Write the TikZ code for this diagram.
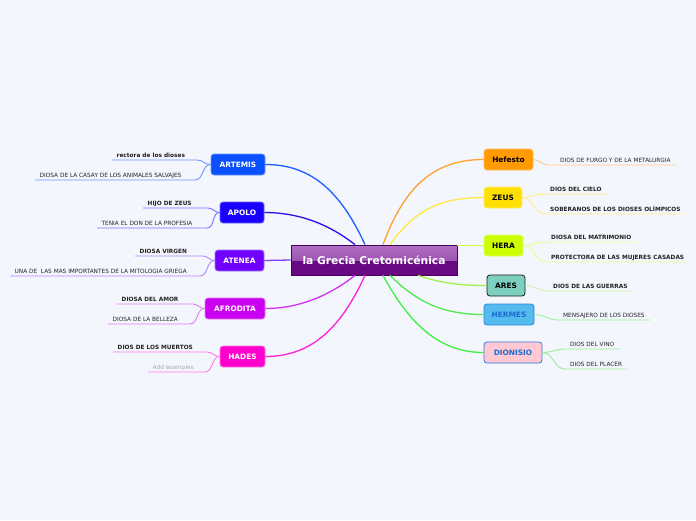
\documentclass[tikz,border=0pt]{standalone}
\usepackage{fontspec}
\setmainfont{DejaVu Sans}
\usetikzlibrary{calc}
\definecolor{bg}{HTML}{F3F6FD}
\definecolor{cenB}{HTML}{4A0062}
\definecolor{cenT}{HTML}{B070C2}
\definecolor{cenM}{HTML}{8C3AA2}
\definecolor{cenD}{HTML}{6A0A82}
% node fills
\definecolor{artF}{HTML}{0A50FF}\definecolor{artB}{HTML}{6A92FF}
\definecolor{apoF}{HTML}{1A00FF}\definecolor{apoB}{HTML}{6A60FF}
\definecolor{ateF}{HTML}{7000FF}\definecolor{ateB}{HTML}{A070FF}
\definecolor{afrF}{HTML}{CC00F0}\definecolor{afrB}{HTML}{E070F8}
\definecolor{hadF}{HTML}{FF00CC}\definecolor{hadB}{HTML}{FF70E0}
\definecolor{hefF}{HTML}{FF9A00}\definecolor{hefB}{HTML}{FFBE60}
\definecolor{zeuF}{HTML}{FFE000}\definecolor{zeuB}{HTML}{FFEE70}
\definecolor{herF}{HTML}{CCFF00}\definecolor{herB}{HTML}{E0FF70}
\definecolor{areF}{HTML}{7DCFC0}\definecolor{areB}{HTML}{1A1A1A}
\definecolor{hrmF}{HTML}{55BBEE}\definecolor{hrmB}{HTML}{2A88DD}
\definecolor{dioF}{HTML}{FFC8D2}\definecolor{dioB}{HTML}{2A7AE0}
\definecolor{blueT}{HTML}{1A6BD0}
% main connectors
\definecolor{artM}{HTML}{1E5EFF}
\definecolor{apoM}{HTML}{2A10E8}
\definecolor{ateM}{HTML}{8040FF}
\definecolor{afrM}{HTML}{D030F0}
\definecolor{hadM}{HTML}{FF20D8}
\definecolor{hefM}{HTML}{FFA030}
\definecolor{zeuM}{HTML}{FFE840}
\definecolor{herM}{HTML}{D8FF30}
\definecolor{areM}{HTML}{A0F050}
\definecolor{hrmM}{HTML}{50E850}
\definecolor{dioM}{HTML}{40F040}
% leaf lines
\definecolor{artL}{HTML}{7094FF}
\definecolor{apoL}{HTML}{7A70FF}
\definecolor{ateL}{HTML}{B585FF}
\definecolor{afrL}{HTML}{E27AF5}
\definecolor{hadL}{HTML}{FF78E5}
\definecolor{hefL}{HTML}{FFCC88}
\definecolor{zeuL}{HTML}{FFEE88}
\definecolor{herL}{HTML}{EEFF88}
\definecolor{areL}{HTML}{C8F5A0}
\definecolor{hrmL}{HTML}{99F099}
\definecolor{dioL}{HTML}{99F099}
\definecolor{leafT}{HTML}{222222}
\definecolor{addT}{HTML}{A8A8A8}
\begin{document}
\begin{tikzpicture}[x=1pt,y=-1pt,
  god/.style={rounded corners=3pt, minimum height=21pt, inner sep=0pt,
    font=\fontsize{7.4}{8}\selectfont\bfseries, line width=0.8pt},
  leaf/.style={anchor=south west, inner xsep=4.5pt, inner ysep=2.5pt,
    text height=4.3pt, text depth=0pt, font=\fontsize{5.8}{6.5}\selectfont, text=leafT},
  leafb/.style={leaf, font=\fontsize{5.8}{6.5}\selectfont\bfseries},
  mainc/.style={line width=1.3pt},
  subc/.style={line width=0.9pt}]
\useasboundingbox[fill=bg] (0,0) rectangle (696,520);

% central node
\node[draw=cenB, line width=0.8pt, minimum width=166pt, minimum height=30pt,
  inner sep=0pt, fill=cenD,
  path picture={\fill[top color=cenT, bottom color=cenM]
    (path picture bounding box.north west) rectangle (path picture bounding box.east);},
  text=white, font=\fontsize{10.7}{12}\selectfont\bfseries] (c) at (374,260) {la Grecia Cretomicénica};

% left gods
\node[god, fill=artF, draw=artB, text=white, minimum width=54pt] (artemis) at (238,164.5) {ARTEMIS};
\node[god, fill=apoF, draw=apoB, text=white, minimum width=44pt] (apolo) at (242,212.5) {APOLO};
\node[god, fill=ateF, draw=ateB, text=white, minimum width=49pt] (atenea) at (239.5,260.5) {ATENEA};
\node[god, fill=afrF, draw=afrB, text=white, minimum width=60pt] (afrodita) at (235,308.5) {AFRODITA};
\node[god, fill=hadF, draw=hadB, text=white, minimum width=45pt] (hades) at (242.5,356.5) {HADES};

% right gods
\node[god, fill=hefF, draw=hefB, text=black, minimum width=49pt] (hefesto) at (508.5,159.5) {Hefesto};
\node[god, fill=zeuF, draw=zeuB, text=black, minimum width=38pt] (zeus) at (503,197.5) {ZEUS};
\node[god, fill=herF, draw=herB, text=black, minimum width=39pt] (hera) at (503.5,245.5) {HERA};
\node[god, fill=areF, draw=areB, text=black, minimum width=38pt] (ares) at (506,285.5) {ARES};
\node[god, fill=hrmF, draw=hrmB, text=blueT, minimum width=50pt] (hermes) at (509,314.5) {HERMES};
\node[god, fill=dioF, draw=dioB, text=blueT, minimum width=58pt] (dionisio) at (513,352.5) {DIONISIO};

% main connectors
\draw[mainc, artM] ($(c.north)+(-9,0)$) .. controls (340,190) and (310,164.5) .. (artemis.east);
\draw[mainc, apoM] ($(c.north)+(-19,0)$) .. controls (330,225) and (300,212.5) .. (apolo.east);
\draw[mainc, ateM] (c.west) -- (atenea.east);
\draw[mainc, afrM] ($(c.south)+(-19,0)$) .. controls (330,295) and (300,308.5) .. (afrodita.east);
\draw[mainc, hadM] ($(c.south)+(-9,0)$) .. controls (340,330) and (310,356.5) .. (hades.east);
\draw[mainc, hefM] ($(c.north)+(9,0)$) .. controls (405,185) and (435,159.5) .. (hefesto.west);
\draw[mainc, zeuM] ($(c.north)+(16,0)$) .. controls (415,210) and (440,197.5) .. (zeus.west);
\draw[mainc, herM] (c.east |- hera.west) -- (hera.west);
\draw[mainc, areM] ($(c.south)+(44,0)$) .. controls (440,283) and (460,285.5) .. (ares.west);
\draw[mainc, hrmM] ($(c.south)+(16,0)$) .. controls (415,300) and (440,314.5) .. (hermes.west);
\draw[mainc, dioM] ($(c.south)+(9,0)$) .. controls (410,325) and (440,352.5) .. (dionisio.west);

% left leaves
\node[leafb] (a1) at (112,160) {rectora de los dioses};
\node[leaf] (a2) at (35,180) {DIOSA DE LA CASAY DE LOS ANIMALES SALVAJES};
\node[leafb] (p1) at (143,208) {HIJO DE ZEUS};
\node[leaf] (p2) at (97,228) {TENIA EL DON DE LA PROFESIA};
\node[leafb] (t1) at (135,256) {DIOSA VIRGEN};
\node[leaf] (t2) at (10,276) {UNA DE\ \ LAS MAS IMPORTANTES DE LA MITOLOGIA GRIEGA};
\node[leafb] (f1) at (117,304) {DIOSA DEL AMOR};
\node[leaf] (f2) at (108,324) {DIOSA DE LA BELLEZA};
\node[leafb] (h1) at (113,352) {DIOS DE LOS MUERTOS};
\node[leaf, text=addT] (h2) at (148,372) {Add examples};

\coordinate (a1e) at (197,160);
\coordinate (a2e) at (195,180);
\coordinate (p1e) at (208,208);
\coordinate (p2e) at (207,228);
\coordinate (t1e) at (203,256);
\coordinate (t2e) at (200,276);
\coordinate (f1e) at (193,304);
\coordinate (f2e) at (190,324);
\coordinate (h1e) at (207,352);
\coordinate (h2e) at (205,372);

\draw[subc, artL] (artemis.west) to[out=180,in=0] (a1e) -- (a1.south west);
\draw[subc, artL] (artemis.west) to[out=180,in=0] (a2e) -- (a2.south west);
\draw[subc, apoL] (apolo.west) to[out=180,in=0] (p1e) -- (p1.south west);
\draw[subc, apoL] (apolo.west) to[out=180,in=0] (p2e) -- (p2.south west);
\draw[subc, ateL] (atenea.west) to[out=180,in=0] (t1e) -- (t1.south west);
\draw[subc, ateL] (atenea.west) to[out=180,in=0] (t2e) -- (t2.south west);
\draw[subc, afrL] (afrodita.west) to[out=180,in=0] (f1e) -- (f1.south west);
\draw[subc, afrL] (afrodita.west) to[out=180,in=0] (f2e) -- (f2.south west);
\draw[subc, hadL] (hades.west) to[out=180,in=0] (h1e) -- (h1.south west);
\draw[subc, hadL] (hades.west) to[out=180,in=0] (h2e) -- (h2.south west);

% right leaves
\node[leaf, inner xsep=12pt] (e1) at (548,165) {DIOS DE FURGO Y DE LA METALURGIA};
\node[leafb, inner xsep=5pt] (z1) at (545,194) {DIOS DEL CIELO};
\node[leafb, inner xsep=5pt] (z2) at (545,214) {SOBERANOS DE LOS DIOSES OLÍMPICOS};
\node[leafb, inner xsep=5pt] (r1) at (546,242) {DIOSA DEL MATRIMONIO};
\node[leafb, inner xsep=5pt] (r2) at (546,262) {PROTECTORA DE LAS MUJERES CASADAS};
\node[leafb, inner xsep=5pt] (s1) at (548,291) {DIOS DE LAS GUERRAS};
\node[leaf, inner xsep=5pt] (m1) at (558,320) {MENSAJERO DE LOS DIOSES};
\node[leaf, inner xsep=5pt] (d1) at (565,349) {DIOS DEL VINO};
\node[leaf, inner xsep=5pt] (d2) at (565,369) {DIOS DEL PLACER};

\coordinate (e1e) at (676,165);
\coordinate (z1e) at (607,194);
\coordinate (z2e) at (684,214);
\coordinate (r1e) at (637,242);
\coordinate (r2e) at (686,262);
\coordinate (s1e) at (632,291);
\coordinate (m1e) at (650,320);
\coordinate (d1e) at (620,349);
\coordinate (d2e) at (627,369);

\draw[subc, hefL] (hefesto.east) to[out=0,in=180] (e1.south west) -- (e1e);
\draw[subc, zeuL] (zeus.east) to[out=0,in=180] (z1.south west) -- (z1e);
\draw[subc, zeuL] (zeus.east) to[out=0,in=180] (z2.south west) -- (z2e);
\draw[subc, herL] (hera.east) to[out=0,in=180] (r1.south west) -- (r1e);
\draw[subc, herL] (hera.east) to[out=0,in=180] (r2.south west) -- (r2e);
\draw[subc, areL] (ares.east) to[out=0,in=180] (s1.south west) -- (s1e);
\draw[subc, hrmL] (hermes.east) to[out=0,in=180] (m1.south west) -- (m1e);
\draw[subc, dioL] (dionisio.east) to[out=0,in=180] (d1.south west) -- (d1e);
\draw[subc, dioL] (dionisio.east) to[out=0,in=180] (d2.south west) -- (d2e);
\end{tikzpicture}
\end{document}
